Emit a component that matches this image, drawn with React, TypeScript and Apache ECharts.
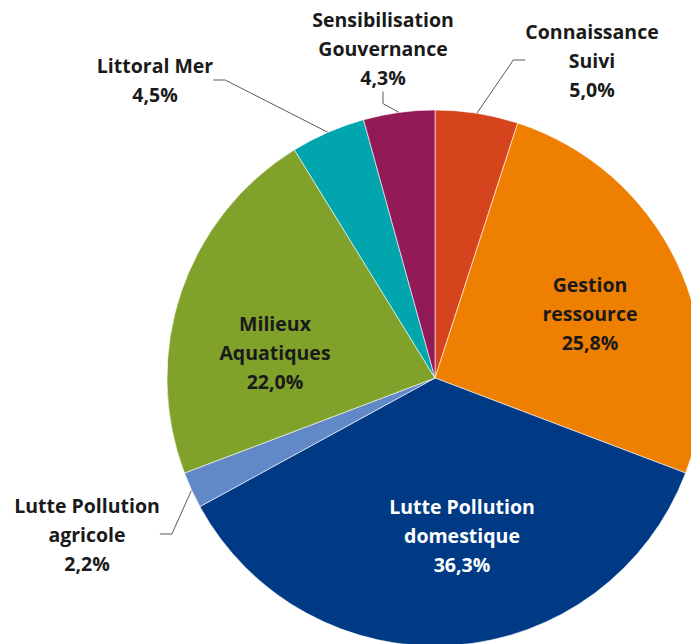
import React, { useEffect, useRef } from "react";
import * as echarts from "echarts";

const categories = [
  "Connaissance\nSuivi",
  "Gestion\nressource",
  "Lutte Pollution\ndomestique",
  "Lutte Pollution\nagricole",
  "Milieux\nAquatiques",
  "Littoral Mer",
  "Sensibilisation\nGouvernance",
];
const values = [5.0, 25.8, 36.3, 2.2, 22.0, 4.5, 4.3];
const colors = ["#D5441C", "#EE7F01", "#003A85", "#6289C7", "#80A12A", "#00A5AE", "#921B57"];
const outside = [true, false, false, true, false, true, true];
const labelPos: [number, number][] = [
  [592, 60],
  [590, 313],
  [462, 535],
  [87, 534],
  [275, 352],
  [155, 80],
  [383, 48],
];

export default function App() {
  const ref = useRef<HTMLDivElement>(null);
  useEffect(() => {
    document.body.style.margin = "0";
    const chart = echarts.init(ref.current!, null, { renderer: "svg" });
    chart.setOption({
      animation: false,
      backgroundColor: "#ffffff",
      series: [
        {
          type: "pie",
          center: [435, 378],
          radius: 268,
          startAngle: 90,
          clockwise: true,
          avoidLabelOverlap: false,
          itemStyle: { borderColor: "#ffffff", borderWidth: 0.6 },
          label: {
            show: true,
            position: "outside",
            fontFamily: "'Open Sans', sans-serif",
            fontWeight: "bold",
            fontSize: 19.5,
            lineHeight: 29,
            color: "#1a1a1a",
            align: "center",
            formatter: (p: any) => `${p.name}\n${p.value.toFixed(1).replace(".", ",")}%`,
          },
          labelLine: { show: true, length: 20, length2: 12, lineStyle: { color: "#595959", width: 1 } },
          labelLayout: (params: any) => {
            const pos = labelPos[params.dataIndex];
            return { x: pos[0], y: pos[1], align: "center", verticalAlign: "middle" };
          },
          data: categories.map((name, i) => ({
            name,
            value: values[i],
            itemStyle: { color: colors[i] },
            label: i === 2 ? { color: "#ffffff" } : {},
            labelLine: { show: outside[i] },
          })),
        },
      ],
    });
    return () => chart.dispose();
  }, []);
  return <div ref={ref} style={{ width: 691, height: 644 }} />;
}
